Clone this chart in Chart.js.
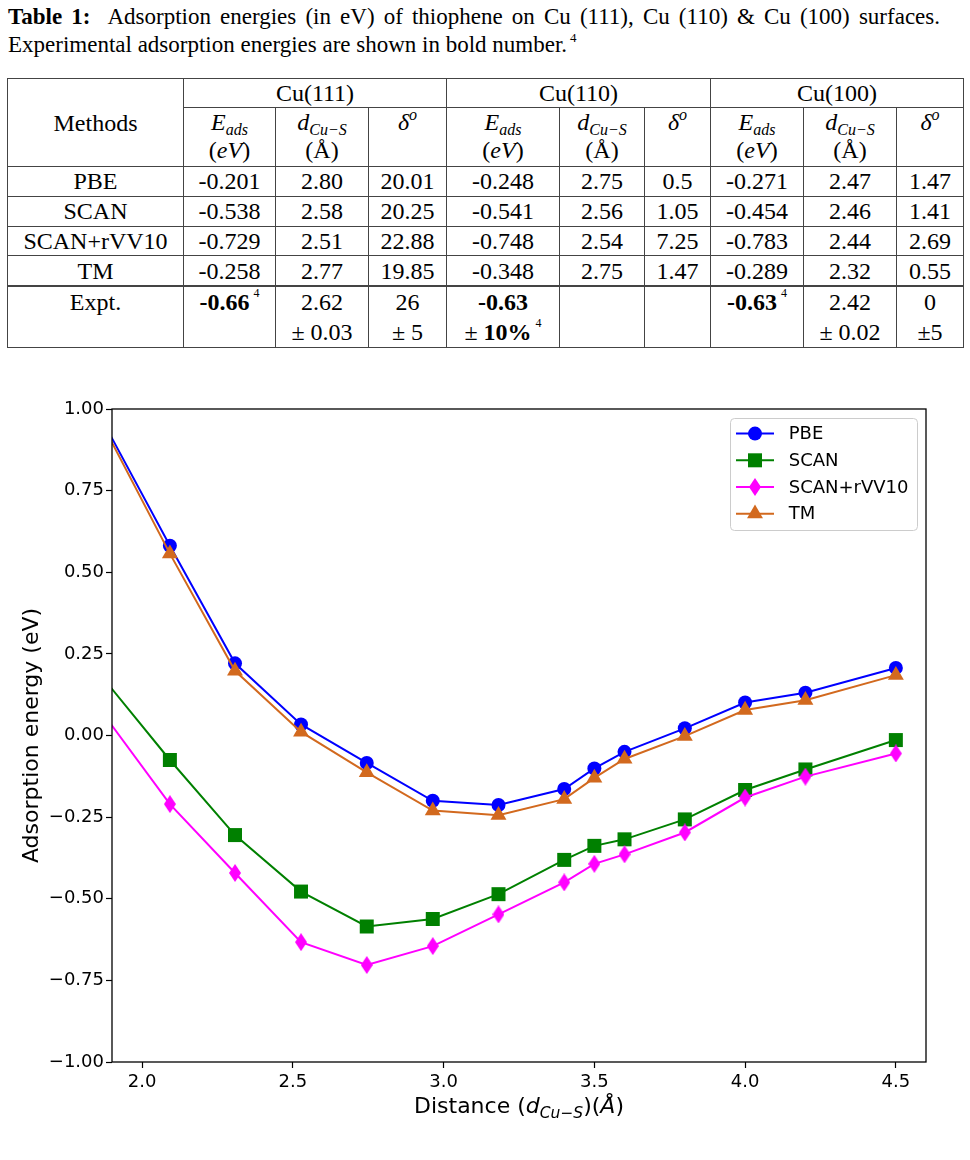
<!DOCTYPE html>
<html>
<head>
<meta charset="utf-8">
<script src="https://cdn.jsdelivr.net/npm/chart.js@4.4.1/dist/chart.umd.min.js"></script>
<style>
body { margin: 0; width: 970px; height: 1160px; background: #fff; position: relative; overflow: hidden; font-family: 'Liberation Serif', serif; color: #000; }
#caption { position: absolute; left: 8px; top: 3px; width: 932px; font-size: 23px; line-height: 28px; }
#caption .l1 { text-align: justify; text-align-last: justify; }
#caption sup { font-size: 13px; position: relative; top: -10px; vertical-align: baseline; line-height: 0; margin-left: 3px; }
#tbl { position: absolute; left: 7px; top: 78px; width: 956px; border-collapse: collapse; table-layout: fixed; font-size: 24px; }
#tbl td { border: 1.3px solid #444; text-align: center; padding: 0; vertical-align: middle; line-height: 28px; }
#tbl tr.grp td { height: 28px; }
#tbl tr.sub td { height: 58px; vertical-align: top; }
#tbl tr.dat td { height: 28.8px; }
#tbl tr.exp td { height: 60px; vertical-align: top; line-height: 30px; border-top-width: 2px; }
#tbl sub { font-size: 16px; font-style: italic; position: relative; top: 5px; vertical-align: baseline; line-height: 0; }
#tbl sup.m { font-size: 16px; font-style: italic; position: relative; top: -10px; vertical-align: baseline; line-height: 0; }
#tbl sup.r { font-size: 12px; position: relative; top: -13px; vertical-align: baseline; line-height: 0; margin-left: 4px; font-weight: normal; }
i { font-style: italic; }
#chart { position: absolute; left: 0; top: 380px; }
</style>
</head>
<body>
<div id="caption">
  <div class="l1"><b>Table 1:</b>&nbsp; Adsorption energies (in eV) of thiophene on Cu (111), Cu (110) &amp; Cu (100) surfaces.</div>
  <div>Experimental adsorption energies are shown in bold number.<sup>4</sup></div>
</div>
<table id="tbl">
  <colgroup>
    <col style="width:176px"><col style="width:92px"><col style="width:93px"><col style="width:78px">
    <col style="width:113px"><col style="width:85px"><col style="width:66px">
    <col style="width:93px"><col style="width:93px"><col style="width:67px">
  </colgroup>
  <tr class="grp"><td rowspan="2" style="vertical-align:middle">Methods</td><td colspan="3">Cu(111)</td><td colspan="3">Cu(110)</td><td colspan="3">Cu(100)</td></tr>
  <tr class="sub">
    <td><i>E</i><sub>ads</sub><br>(<i>eV</i>)</td><td><i>d</i><sub>Cu−S</sub><br>(Å)</td><td><i>δ</i><sup class="m">o</sup></td>
    <td><i>E</i><sub>ads</sub><br>(<i>eV</i>)</td><td><i>d</i><sub>Cu−S</sub><br>(Å)</td><td><i>δ</i><sup class="m">o</sup></td>
    <td><i>E</i><sub>ads</sub><br>(<i>eV</i>)</td><td><i>d</i><sub>Cu−S</sub><br>(Å)</td><td><i>δ</i><sup class="m">o</sup></td>
  </tr>
  <tr class="dat"><td>PBE</td><td>-0.201</td><td>2.80</td><td>20.01</td><td>-0.248</td><td>2.75</td><td>0.5</td><td>-0.271</td><td>2.47</td><td>1.47</td></tr>
  <tr class="dat"><td>SCAN</td><td>-0.538</td><td>2.58</td><td>20.25</td><td>-0.541</td><td>2.56</td><td>1.05</td><td>-0.454</td><td>2.46</td><td>1.41</td></tr>
  <tr class="dat"><td>SCAN+rVV10</td><td>-0.729</td><td>2.51</td><td>22.88</td><td>-0.748</td><td>2.54</td><td>7.25</td><td>-0.783</td><td>2.44</td><td>2.69</td></tr>
  <tr class="dat"><td>TM</td><td>-0.258</td><td>2.77</td><td>19.85</td><td>-0.348</td><td>2.75</td><td>1.47</td><td>-0.289</td><td>2.32</td><td>0.55</td></tr>
  <tr class="exp">
    <td>Expt.</td><td><b>-0.66</b><sup class="r">4</sup></td><td>2.62<br>± 0.03</td><td>26<br>± 5</td>
    <td><b>-0.63</b><br>± <b>10%</b><sup class="r">4</sup></td><td></td><td></td>
    <td><b>-0.63</b><sup class="r">4</sup></td><td>2.42<br>± 0.02</td><td>0<br>±5</td>
  </tr>
</table>
<canvas id="chart" width="970" height="780"></canvas>
<script>
// distances d(Cu-S) in Angstrom, energies in eV
var distances = [1.874, 2.092, 2.308, 2.527, 2.745, 2.964, 3.182, 3.40, 3.5, 3.6, 3.8, 4.0, 4.2, 4.5];
var pbe   = [0.955, 0.581, 0.221, 0.034, -0.084, -0.200, -0.213, -0.164, -0.101, -0.050, 0.022, 0.101, 0.131, 0.207];
var scan  = [0.172, -0.075, -0.305, -0.478, -0.585, -0.562, -0.486, -0.381, -0.338, -0.318, -0.257, -0.167, -0.104, -0.014];
var rvv10 = [0.063, -0.210, -0.421, -0.633, -0.703, -0.645, -0.548, -0.450, -0.393, -0.364, -0.297, -0.190, -0.126, -0.055];
var tm    = [0.943, 0.557, 0.198, 0.011, -0.113, -0.230, -0.244, -0.195, -0.130, -0.072, -0.002, 0.078, 0.108, 0.185];
var seriesNames = ['PBE', 'SCAN', 'SCAN+rVV10', 'TM'];
var xTicks = [2.0, 2.5, 3.0, 3.5, 4.0, 4.5];
var yTicks = [-1.0, -0.75, -0.5, -0.25, 0.0, 0.25, 0.5, 0.75, 1.0];

var FONT = "'DejaVu Sans', sans-serif";

function thinDiamond(color) {
    var c = document.createElement('canvas');
    c.width = 12; c.height = 18;
    var g = c.getContext('2d');
    g.fillStyle = color;
    g.beginPath();
    g.moveTo(6, 0); g.lineTo(12, 9); g.lineTo(6, 18); g.lineTo(0, 9);
    g.closePath();
    g.fill();
    return c;
}

function points(ys) {
    return distances.map(function (d, i) { return { x: d, y: ys[i] }; });
}

var styles = [
    { color: '#0000ff', pointStyle: 'circle', radius: 7, order: 3 },
    { color: '#008000', pointStyle: 'rect', radius: 9.9, order: 2 },
    { color: '#ff00ff', pointStyle: thinDiamond('#ff00ff'), radius: 9, order: 1 },
    { color: '#d2691e', pointStyle: 'triangle', radius: 9.2, order: 0 }
];
var values = [pbe, scan, rvv10, tm];

var datasets = seriesNames.map(function (name, i) {
    var s = styles[i];
    return {
        label: name,
        data: points(values[i]),
        borderColor: s.color,
        backgroundColor: s.color,
        borderWidth: 2,
        pointStyle: s.pointStyle,
        pointRadius: s.radius,
        pointBorderWidth: 0,
        order: s.order,
        tension: 0
    };
});

function drawMarker(ctx, style, x, y) {
    ctx.fillStyle = style.color;
    if (style.pointStyle === 'circle') {
        ctx.beginPath(); ctx.arc(x, y, style.radius, 0, Math.PI * 2); ctx.fill();
    } else if (style.pointStyle === 'rect') {
        var h = style.radius * Math.SQRT1_2;
        ctx.fillRect(x - h, y - h, 2 * h, 2 * h);
    } else if (style.pointStyle === 'triangle') {
        var r = style.radius;
        ctx.beginPath();
        ctx.moveTo(x, y - r);
        ctx.lineTo(x + r * Math.sin(Math.PI / 3), y + r / 2);
        ctx.lineTo(x - r * Math.sin(Math.PI / 3), y + r / 2);
        ctx.closePath(); ctx.fill();
    } else {
        var img = style.pointStyle;
        ctx.drawImage(img, x - img.width / 2, y - img.height / 2);
    }
}

var decorPlugin = {
    id: 'decor',
    afterDatasetsDraw: function (chart) {
        var a = chart.chartArea, ctx = chart.ctx;
        ctx.save();
        ctx.strokeStyle = '#000';
        ctx.lineWidth = 1.3;
        ctx.strokeRect(a.left, a.top, a.right - a.left, a.bottom - a.top);
        ctx.restore();
    },
    afterDraw: function (chart) {
        var a = chart.chartArea, ctx = chart.ctx;
        ctx.save();
        // legend box
        var bw = 187, bh = 112;
        var bx = a.right - 9 - bw, by = a.top + 9;
        ctx.fillStyle = 'rgba(255,255,255,0.8)';
        ctx.strokeStyle = '#cccccc';
        ctx.lineWidth = 1;
        ctx.beginPath();
        ctx.roundRect(bx + 0.5, by + 0.5, bw, bh, 4);
        ctx.fill(); ctx.stroke();
        ctx.font = '18px ' + FONT;
        ctx.textBaseline = 'middle';
        seriesNames.forEach(function (name, i) {
            var s = styles[i];
            var yy = by + 15.6 + i * 26.7;
            ctx.strokeStyle = s.color;
            ctx.lineWidth = 2;
            ctx.beginPath(); ctx.moveTo(bx + 6, yy); ctx.lineTo(bx + 44, yy); ctx.stroke();
            drawMarker(ctx, s, bx + 25, yy);
            ctx.fillStyle = '#000';
            ctx.fillText(name, bx + 58.7, yy + 1);
        });
        // y axis title
        ctx.save();
        ctx.translate(32, (a.top + a.bottom) / 2);
        ctx.rotate(-Math.PI / 2);
        ctx.textAlign = 'center';
        ctx.textBaseline = 'middle';
        ctx.font = '22px ' + FONT;
        ctx.fillStyle = '#000';
        ctx.fillText('Adsorption energy (eV)', 0, 0);
        ctx.restore();
        // x axis title with subscript
        var parts = [
            { t: 'Distance (', f: '22px ' + FONT, dy: 0 },
            { t: 'd', f: 'italic 22px ' + FONT, dy: 0 },
            { t: 'Cu\u2212S', f: 'italic 15.5px ' + FONT, dy: 5 },
            { t: ')(', f: '22px ' + FONT, dy: 0 },
            { t: '\u00c5', f: 'italic 22px ' + FONT, dy: 0 },
            { t: ')', f: '22px ' + FONT, dy: 0 }
        ];
        var total = 0;
        parts.forEach(function (p) { ctx.font = p.f; p.w = ctx.measureText(p.t).width; total += p.w; });
        var x = (a.left + a.right) / 2 - total / 2;
        var base = a.bottom + 51;
        ctx.textBaseline = 'alphabetic';
        ctx.textAlign = 'left';
        ctx.fillStyle = '#000';
        parts.forEach(function (p) { ctx.font = p.f; ctx.fillText(p.t, x, base + p.dy); x += p.w; });
        ctx.restore();
    }
};

new Chart(document.getElementById('chart'), {
    type: 'line',
    data: { datasets: datasets },
    options: {
        responsive: false,
        animation: false,
        events: [],
        layout: { padding: { top: 29, right: 44, bottom: 0, left: 0 } },
        plugins: { legend: { display: false }, tooltip: { enabled: false } },
        scales: {
            x: {
                type: 'linear',
                min: 1.9,
                max: 4.6,
                afterFit: function (scale) { scale.height = 98; },
                afterBuildTicks: function (scale) { scale.ticks = xTicks.map(function (v) { return { value: v }; }); },
                grid: { drawOnChartArea: false, drawTicks: true, tickLength: 6, color: '#000', tickWidth: 1.2 },
                border: { display: false },
                ticks: {
                    color: '#000',
                    font: { family: FONT, size: 18 },
                    padding: 4,
                    maxRotation: 0,
                    callback: function (v) { return Number(v).toFixed(1); }
                }
            },
            y: {
                min: -1,
                max: 1,
                afterFit: function (scale) { scale.width = 112; },
                afterBuildTicks: function (scale) { scale.ticks = yTicks.map(function (v) { return { value: v }; }); },
                grid: { drawOnChartArea: false, drawTicks: true, tickLength: 6, color: '#000', tickWidth: 1.2 },
                border: { display: false },
                ticks: {
                    color: '#000',
                    font: { family: FONT, size: 18 },
                    padding: 2,
                    callback: function (v) { return Number(v).toFixed(2).replace('-', '\u2212'); }
                }
            }
        }
    },
    plugins: [decorPlugin]
});
</script>
</body>
</html>
